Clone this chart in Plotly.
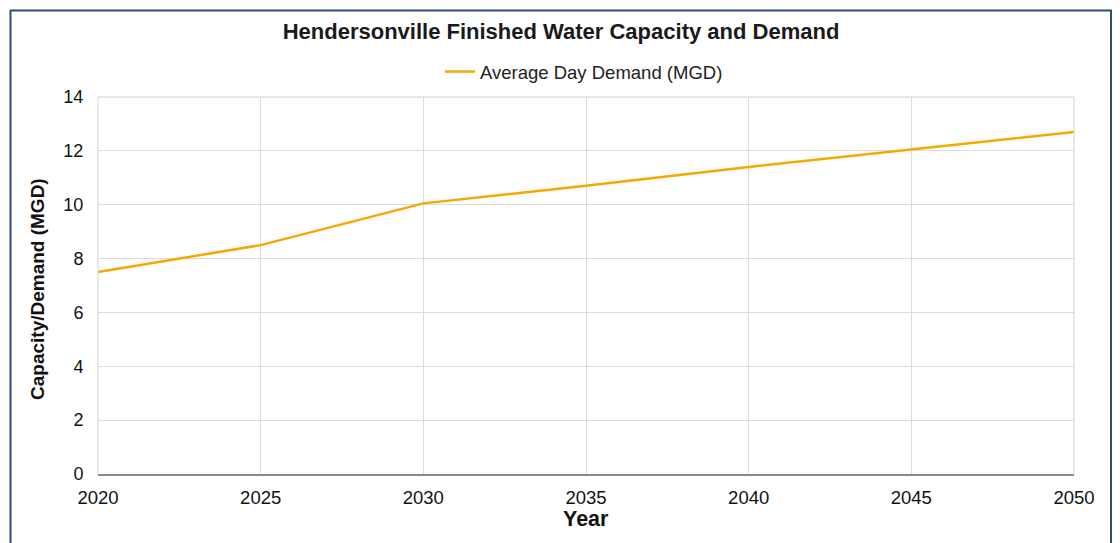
import plotly.graph_objects as go

# Projected average day demand by planning year
years = [2020, 2025, 2030, 2035, 2040, 2045, 2050]
avg_day_demand = [7.5, 8.5, 10.05, 10.7, 11.4, 12.05, 12.7]

x_ticks = [2020, 2025, 2030, 2035, 2040, 2045, 2050]
y_ticks = [0, 2, 4, 6, 8, 10, 12, 14]

W, H = 1120, 543
L, R, T, B = 98, 46, 97, 69
plot_w = W - L - R
plot_h = H - T - B


def px_to_paper_x(px):
    return (px - L) / plot_w


def px_to_paper_y(py):
    return (H - B - py) / plot_h


FONT = "Liberation Sans, Arial, sans-serif"

fig = go.Figure()
fig.add_trace(go.Scatter(
    x=years,
    y=avg_day_demand,
    mode="lines",
    name="Average Day Demand (MGD)",
    line=dict(color="#F6A800", width=2.5),
))

fig.update_layout(
    width=W,
    height=H,
    margin=dict(l=L, r=R, t=T, b=B),
    paper_bgcolor="white",
    plot_bgcolor="white",
    font=dict(family=FONT, color="#111111"),
    title=dict(
        text="<b>Hendersonville Finished Water Capacity and Demand</b>",
        x=px_to_paper_x(561), xref="paper", xanchor="center",
        y=1 - 31 / H, yref="container", yanchor="middle",
        font=dict(size=22, family=FONT, color="#1a1a1a"),
    ),
    showlegend=True,
    legend=dict(
        orientation="h",
        x=px_to_paper_x(584), xanchor="center",
        y=px_to_paper_y(72), yanchor="middle",
        font=dict(size=18.5, family=FONT, color="#222222"),
        bgcolor="rgba(0,0,0,0)",
    ),
    xaxis=dict(
        range=[2020, 2050],
        tickmode="array",
        tickvals=x_ticks,
        ticktext=[str(v) for v in x_ticks],
        showgrid=True,
        gridcolor="#dcdcdc",
        gridwidth=1,
        zeroline=False,
        showline=True,
        linecolor="#8a8a8a",
        linewidth=1.5,
        mirror=False,
        ticks="outside",
        ticklen=6,
        tickcolor="rgba(0,0,0,0)",
        tickfont=dict(size=18.5, family=FONT, color="#111111"),
    ),
    yaxis=dict(
        range=[0, 14],
        tickmode="array",
        tickvals=y_ticks,
        showgrid=True,
        gridcolor="#dcdcdc",
        gridwidth=1,
        zeroline=False,
        showline=False,
        ticks="outside",
        ticklen=10,
        tickcolor="rgba(0,0,0,0)",
        tickfont=dict(size=18, family=FONT, color="#111111"),
    ),
)

# Light border around the left, top and right of the plot area
for x0, y0, x1, y1 in [(0, 0, 0, 1), (0, 1, 1, 1), (1, 0, 1, 1)]:
    fig.add_shape(type="line", xref="paper", yref="paper",
                  x0=x0, y0=y0, x1=x1, y1=y1,
                  line=dict(color="#d2d2d2", width=1))

# Outer frame of the figure
fig.add_shape(
    type="rect", xref="paper", yref="paper",
    x0=px_to_paper_x(10.5), x1=px_to_paper_x(1111),
    y0=px_to_paper_y(560), y1=px_to_paper_y(10.5),
    line=dict(color="#2e4d73", width=2),
    fillcolor="rgba(0,0,0,0)",
    layer="above",
)

# Axis titles
fig.add_annotation(
    text="<b>Capacity/Demand (MGD)</b>",
    xref="paper", yref="paper",
    x=px_to_paper_x(37), y=px_to_paper_y(289),
    xanchor="center", yanchor="middle",
    textangle=-90, showarrow=False,
    font=dict(size=19, family=FONT, color="#111111"),
)
fig.add_annotation(
    text="<b>Year</b>",
    xref="paper", yref="paper",
    x=px_to_paper_x(586), y=px_to_paper_y(519),
    xanchor="center", yanchor="middle",
    showarrow=False,
    font=dict(size=21.5, family=FONT, color="#111111"),
)

fig.write_html("out.html")
